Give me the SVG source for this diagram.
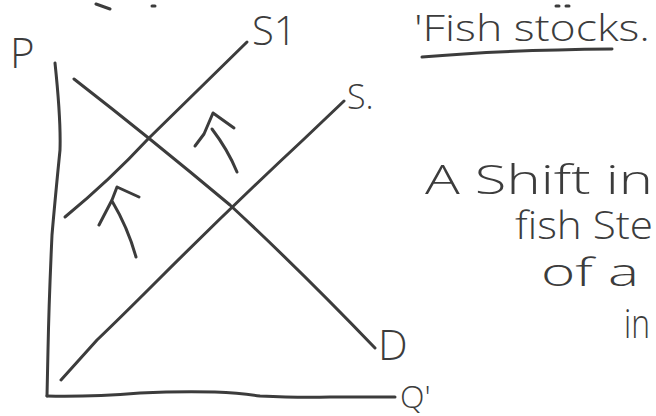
<svg xmlns="http://www.w3.org/2000/svg" width="656" height="416" viewBox="0 0 656 416">
<style>
.ln{fill:none;stroke:#3c3c3c;stroke-width:3;stroke-linecap:round;stroke-linejoin:round}
.tx{font-family:"Open Sans","DejaVu Sans",sans-serif;fill:#3c3c3c;font-weight:300}
</style>
<rect width="656" height="416" fill="#ffffff"/>
<g id="axes">
<path class="ln" d="M55,63 Q61,120 60,150 Q55,200 52,235 Q49,300 48,350 L47,396"/>
<path class="ln" d="M47,396 Q90,397 140,393 Q180,391 215,392 Q240,393 260,396 Q300,398 330,397 L395,397"/>
</g>
<g id="connectors">
<path id="demand" class="ln" d="M74,79 Q150,138 230,205 Q300,270 375,348"/>
<path id="supply-s1" class="ln" d="M65,217 Q110,180 148,139 Q200,88 247,42"/>
<path id="supply-s" class="ln" d="M61,380 L97,340 Q120,318 157,281 Q230,208 303,140 L344,101"/>
<path id="arrow1" class="ln" d="M99,225 L112,200 L117,187 L139,197 M112,201 Q128,228 136,257"/>
<path id="arrow2" class="ln" d="M195,146 L204,134 L213,113 L234,128 M212,129 Q228,150 237,172"/>
<path class="ln" d="M422,57 Q500,50 612,49" stroke-width="2.5"/>
<path class="ln" d="M96,4 L110,9 M152,6 L155,6 M556,6 L559,6 M566,6 L569,6" stroke-width="2"/>
</g>
<g id="labels">
<text class="tx" x="10" y="68" font-size="42">P</text>
<text class="tx" x="252" y="45" font-size="40">S1</text>
<text class="tx" x="347" y="109" font-size="34">S.</text>
<text class="tx" x="378" y="360" font-size="42">D</text>
<text class="tx" x="400" y="408" font-size="32">Q'</text>
<text class="tx" x="414" y="41" font-size="36" textLength="236" lengthAdjust="spacingAndGlyphs">'Fish stocks.</text>
<text class="tx" x="425" y="194" font-size="40" textLength="228" lengthAdjust="spacingAndGlyphs">A Shift in</text>
<text class="tx" x="515" y="239" font-size="38" textLength="138" lengthAdjust="spacingAndGlyphs">fish Ste</text>
<text class="tx" x="541" y="286" font-size="38" textLength="98" lengthAdjust="spacingAndGlyphs">of a</text>
<text class="tx" x="624" y="338" font-size="40" textLength="26" lengthAdjust="spacingAndGlyphs">in</text>
</g>
</svg>
